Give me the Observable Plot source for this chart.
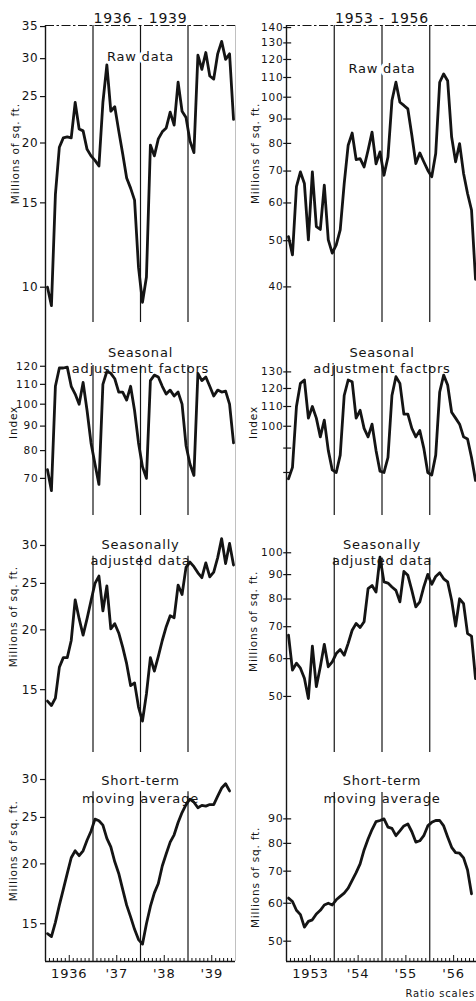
<!DOCTYPE html>
<html>
<head>
<meta charset="utf-8">
<script src="https://cdn.jsdelivr.net/npm/d3@7"></script>
<script src="https://cdn.jsdelivr.net/npm/@observablehq/plot@0.6"></script>
<style>
  body { margin: 0; background: #fff; }
  #root { position: relative; width: 476px; height: 1001px; overflow: hidden; background: #fff; }
  #root svg { position: absolute; overflow: visible; }
  #root text { letter-spacing: 0.8px; }
  #root g[aria-label="ytitle"] text { letter-spacing: 1.5px; }
  #root g[aria-label="foot"] text { letter-spacing: 0.4px; }
</style>
</head>
<body>
<div id="root"></div>
<script>
// ---------------- DATA ----------------
const colTitles = ["1936 - 1939", "1953 - 1956"];
const panelTitles = ["Raw data", "Seasonal\nadjustment factors", "Seasonally\nadjusted data", "Short-term\nmoving average"];
const yTitles = ["Millions of sq. ft.", "Index", "Millions of sq. ft.", "Millions of sq. ft."];
const yearLabelsA = ["1936", "'37", "'38", "'39"];
const yearLabelsB = ["1953", "'54", "'55", "'56"];
const footNote = "Ratio scales";

// 1936-1939 monthly series
const rawA = [10.0, 9.15, 15.6, 19.6, 20.5, 20.6, 20.5, 24.3, 21.4, 21.2, 19.4, 18.8,
  18.4, 17.9, 24.3, 29.1, 23.3, 23.8, 21.2, 19.0, 16.9, 16.1, 15.2, 11.0,
  9.3, 10.5, 19.8, 18.8, 20.4, 21.1, 21.5, 23.2, 21.8, 26.8, 23.3, 22.6,
  20.2, 19.1, 30.5, 28.5, 30.9, 27.6, 27.2, 30.7, 32.6, 29.9, 30.7, 22.4];
const seasA = [73, 66, 109, 119, 119, 119.5, 109, 105, 100, 111, 97, 83,
  75, 68, 110, 117, 116, 113, 106, 106, 102, 109, 97, 83,
  74, 70, 112, 115, 114, 109, 105, 107, 104, 106, 100, 82,
  75, 71, 116, 112, 114, 109, 104, 107, 106, 106.5, 100, 83];
const adjA = [14.2, 13.9, 14.4, 16.7, 17.5, 17.5, 19.0, 23.1, 21.1, 19.5, 21.1, 23.0,
  25.0, 25.9, 21.9, 24.7, 20.1, 20.6, 19.7, 18.4, 17.0, 15.3, 15.5, 13.8,
  12.9, 14.7, 17.5, 16.4, 17.6, 19.0, 20.3, 21.4, 21.2, 24.8, 23.7, 27.0,
  27.7, 27.1, 26.3, 25.7, 27.6, 25.8, 26.4, 28.3, 31.0, 27.5, 30.3, 27.3];
const maA = [14.3, 14.1, 15.1, 16.4, 17.7, 19.1, 20.6, 21.3, 20.8, 21.3, 22.4, 23.4,
  24.8, 24.6, 24.1, 22.6, 21.7, 20.2, 19.1, 17.7, 16.4, 15.5, 14.6, 13.9,
  13.6, 15.0, 16.3, 17.4, 18.2, 19.8, 21.0, 22.2, 23.0, 24.4, 25.6, 26.6,
  27.3, 26.9, 26.2, 26.5, 26.4, 26.6, 26.6, 27.7, 28.8, 29.4, 28.4];

// 1953-1956 monthly series
const rawB = [51.0, 46.7, 64.9, 69.7, 65.9, 50.2, 69.7, 53.5, 52.8, 65.4, 50.2, 47.1,
  49.0, 52.7, 65.9, 79.3, 84.1, 74.0, 74.3, 71.4, 77.4, 84.5, 72.5, 76.8,
  68.6, 74.9, 98.4, 107.5, 97.6, 96.1, 94.5, 83.2, 72.6, 76.4, 73.2, 70.3,
  68.1, 76.2, 107.5, 111.9, 108.3, 82.5, 73.2, 79.9, 69.2, 62.8, 58.0, 41.5];
const seasB = [77.6, 82, 110, 123, 125, 104, 110, 104, 95, 103, 89, 81,
  80, 87, 116, 125, 124, 104, 108, 99, 95, 101, 89, 80.5,
  80, 86, 116, 127, 123, 106, 106, 99, 95, 98, 90, 80,
  79, 87, 118, 128, 122, 107, 104, 101, 95, 94, 86, 77];
const adjB = [67.2, 56.8, 58.7, 57.3, 54.6, 49.5, 63.7, 52.4, 57.7, 64.3, 57.7, 59.1,
  61.5, 62.7, 61.0, 64.6, 68.8, 71.1, 69.7, 71.7, 84.1, 85.4, 82.7, 97.9,
  86.9, 86.4, 84.8, 83.4, 78.9, 91.4, 89.7, 83.4, 77.0, 78.9, 84.8, 90.1,
  85.9, 89.2, 90.8, 88.2, 86.9, 79.5, 70.2, 80.1, 78.2, 67.7, 66.9, 54.5];
const maB = [61.5, 60.5, 58, 56.8, 53.5, 55, 55.4, 57, 58, 59.5, 60, 59.5,
  61, 62, 63, 64.5, 67, 69.5, 72.5, 77.5, 81.7, 85.5, 88.8, 89.3,
  90, 86.5, 86, 83, 85, 87, 87.8, 84.6, 80.5, 81, 83, 87,
  88.5, 89.3, 89.3, 87, 82.5, 78.5, 76.5, 76.3, 74.6, 70.4, 62.8];

// tick values of the ratio (log) scales
const ticksA = [[10, 15, 20, 25, 30, 35], [70, 80, 90, 100, 110, 120], [15, 20, 25, 30], [15, 20, 25, 30]];
const ticksB = [[40, 50, 60, 70, 80, 90, 100, 110, 120, 130, 140], [80, 90, 100, 110, 120, 130], [50, 60, 70, 80, 90, 100], [50, 60, 70, 80, 90]];

// ---------------- LAYOUT ----------------
const series = [[rawA, seasA, adjA, maA], [rawB, seasB, adjB, maB]];
const tickSets = [ticksA, ticksB];
const domains = [
  [[8.44, 35.18], [58.56, 148.1], [11.09, 34.65], [12.51, 34.16]],
  [[33.68, 141.4], [65.0, 165.0], [38.15, 119.7], [45.35, 123.8]]
];
const ruleTops = [[null, 120.5, 28.5, 28.3], [null, 134, 97.5, 102.2]];
const yTitlePos = [
  [[19.0, -30], [91.6, -32], [21.3, -32], [21.3, -32]],
  [[76.2, -31], [101.8, -33], [71.8, -33], [67.9, -31]]
];
const tickFont = [[12, 10.5, 12, 12], [10.5, 10.5, 10.5, 11]];
const titleDy = [[26, 23, 22, 20], [38, 23.5, 22.5, 20.5]];
const titleLH = [1, 1.23, 1.23, 1.35];
const layout = [
  {top: 0, h: 322, mt: 25, mb: 0},
  {top: 322, h: 193, mt: 0, mb: 0},
  {top: 515, h: 237, mt: 0, mb: 0},
  {top: 752, h: 249, mt: 0, mb: 40}
];
const FONT = "'DejaVu Sans', 'Liberation Sans', sans-serif";
const INK = "#141414";

const root = document.getElementById("root");

function panel(col, p) {
  const L = col === 0;
  const cfg = layout[p];
  const dom = domains[col][p];
  const vals = series[col][p];
  const ticks = tickSets[col][p];
  const frameH = cfg.h - cfg.mt - cfg.mb;
  const top = ruleTops[col][p];
  const marks = [];

  // frame: left edge, faint right edge
  marks.push(Plot.ruleX([0], {stroke: INK, strokeWidth: 1.4}));
  marks.push(Plot.ruleX([48], {stroke: "#b0b0b0", strokeWidth: 0.8}));
  // year boundaries
  if (top) {
    marks.push(Plot.ruleX([12, 24, 36], {y1: () => dom[0], y2: () => top, stroke: INK, strokeWidth: 1.2}));
  } else {
    marks.push(Plot.ruleX([12, 24, 36], {stroke: INK, strokeWidth: 1.2}));
  }
  if (p === 0) {
    marks.push(Plot.ruleY([dom[1]], {stroke: INK, strokeWidth: 1.2, strokeDasharray: "9,2.5,2.5,2.5"}));
    marks.push(Plot.text([colTitles[col]], {x: () => 24, frameAnchor: "top", dy: -12.5, fontSize: 14, fill: INK}));
  }

  // panel title
  const tOpts = {x: () => 24, frameAnchor: "top", dy: titleDy[col][p], fontSize: 13, fill: INK, lineHeight: titleLH[p]};
  if (p === 0) Object.assign(tOpts, {stroke: "white", strokeWidth: 7});
  marks.push(Plot.text([panelTitles[p]], tOpts));

  // data line
  marks.push(Plot.line(vals, {x: (d, i) => i + 0.5, y: d => d, stroke: INK, strokeWidth: 2.8, strokeLinejoin: "round", strokeLinecap: "round"}));

  // y axis
  if (L) {
    marks.push(Plot.axisY(ticks, {anchor: "left", tickSize: 5, tickPadding: 2, strokeWidth: 1.2, tickFormat: d => `${d}`, fontSize: tickFont[col][p], label: null, fill: INK}));
  } else {
    marks.push(Plot.ruleY(ticks, {x1: () => -0.7, x2: () => 1.3, stroke: INK, strokeWidth: 1.2}));
    marks.push(Plot.axisY(ticks, {anchor: "left", tickSize: 0, tickPadding: 3, tickFormat: d => `${d}`, fontSize: tickFont[col][p], label: null, fill: INK}));
  }
  const [yv, ydx] = yTitlePos[col][p];
  marks.push(Plot.text([yTitles[p]], {x: () => 0, y: () => yv, dx: ydx, rotate: -90, fontSize: 10.5, fill: INK, ariaLabel: "ytitle"}));

  // bottom time axis
  if (p === 3) {
    const mids = [6, 18, 30, 42];
    const minor = d3.range(1, 48).filter(m => m % 6 !== 0);
    marks.push(Plot.ruleY([dom[0]], {stroke: INK, strokeWidth: 1.4}));
    marks.push(Plot.ruleX(minor, {insetTop: frameH - 3, stroke: INK, strokeWidth: 1}));
    marks.push(Plot.ruleX(mids, {insetTop: frameH - 6, stroke: INK, strokeWidth: 1}));
    marks.push(Plot.text(L ? yearLabelsA : yearLabelsB, {x: (d, i) => i * 12 + 6, frameAnchor: "bottom", dy: 16, fontSize: 13, fill: INK}));
    if (!L) marks.push(Plot.text([footNote], {frameAnchor: "bottom-right", dx: -2.5, dy: 35, textAnchor: "end", fontSize: 10, fill: INK, ariaLabel: "foot"}));
  }

  const svg = Plot.plot({
    width: L ? 238 : 239,
    height: cfg.h,
    marginLeft: L ? 45 : 48,
    marginRight: L ? 3 : 0,
    marginTop: cfg.mt,
    marginBottom: cfg.mb,
    x: {domain: [0, 48], axis: null},
    y: {type: "log", domain: dom, axis: null},
    style: {background: "transparent", overflow: "visible", fontFamily: FONT, color: INK},
    marks
  });
  svg.style.position = "absolute";
  svg.style.left = (L ? 0 : 238) + "px";
  svg.style.top = cfg.top + "px";
  svg.style.maxWidth = "none";
  root.appendChild(svg);
}

for (let c = 0; c < 2; c++) for (let p = 0; p < 4; p++) panel(c, p);
</script>
</body>
</html>
